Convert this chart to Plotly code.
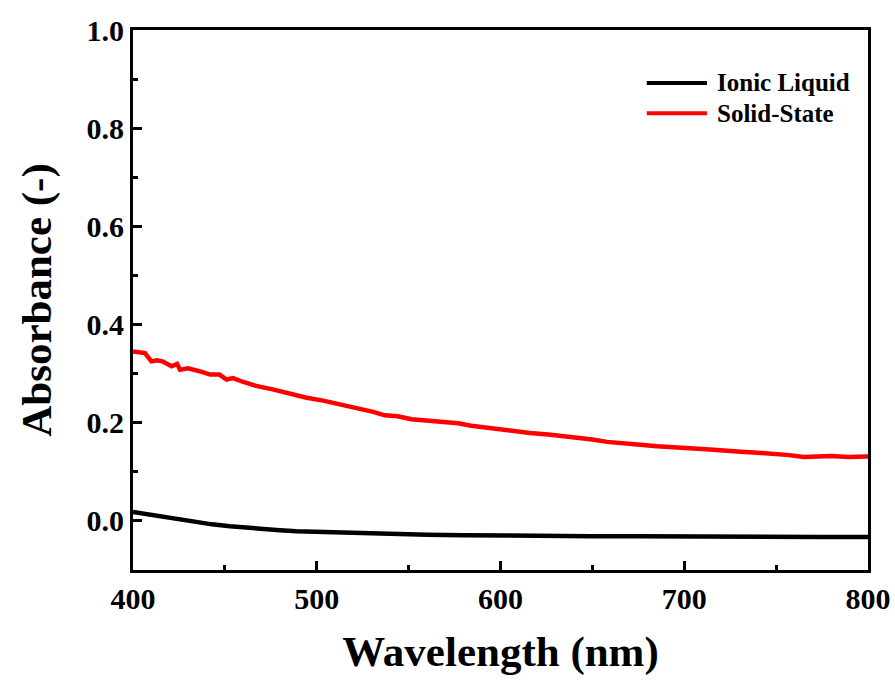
import plotly.graph_objects as go

# Absorbance spectra (wavelength in nm, absorbance dimensionless)
series_names = ["Ionic Liquid", "Solid-State"]
series_colors = ["#000000", "#ff0000"]

wl_ionic = [400, 408, 416.5, 425, 434.6, 443, 452.7, 461, 470.8, 480, 489, 498,
            507, 520, 533.5, 547, 560, 580, 600, 625, 650, 675, 700, 725, 750,
            775, 800]
abs_ionic = [0.018, 0.013, 0.0075, 0.002, -0.003, -0.007, -0.011, -0.014, -0.016,
             -0.019, -0.021, -0.022, -0.023, -0.025, -0.026, -0.027, -0.028,
             -0.029, -0.030, -0.030, -0.031, -0.031, -0.032, -0.032, -0.033,
             -0.033, -0.033]

wl_solid = [400, 403, 406.5, 410, 413, 416, 419, 421, 424, 425.6, 430, 434.6, 438,
            442, 447, 451, 454.5, 460, 467, 476, 485.5, 494.5, 503.5, 512.6,
            521.7, 530.7, 537, 544, 551.6, 558, 566, 577, 584, 591.5, 599, 606,
            616, 626, 634, 642, 650, 658, 667, 676, 685, 694, 703, 712, 721,
            730.6, 740, 748.7, 757, 765, 772, 780, 789, 798, 800]
abs_solid = [0.345, 0.343, 0.342, 0.325, 0.327, 0.325, 0.318, 0.315, 0.320, 0.308,
             0.311, 0.307, 0.303, 0.298, 0.298, 0.288, 0.291, 0.283, 0.275, 0.268,
             0.259, 0.251, 0.245, 0.237, 0.231, 0.222, 0.215, 0.213, 0.207, 0.205,
             0.203, 0.199, 0.194, 0.190, 0.187, 0.183, 0.179, 0.176, 0.173, 0.170,
             0.166, 0.161, 0.159, 0.155, 0.152, 0.149, 0.148, 0.146, 0.143, 0.141,
             0.139, 0.137, 0.134, 0.130, 0.131, 0.132, 0.130, 0.130, 0.131]

x_ticks = [400, 500, 600, 700, 800]
y_ticks = [0.0, 0.2, 0.4, 0.6, 0.8, 1.0]

FONT = "Liberation Serif"

fig = go.Figure()
for name, color, xs, ys in [
    (series_names[0], series_colors[0], wl_ionic, abs_ionic),
    (series_names[1], series_colors[1], wl_solid, abs_solid),
]:
    fig.add_trace(go.Scatter(x=xs, y=ys, mode="lines", name=name,
                             line=dict(color=color, width=4.5),
                             showlegend=False))

axis_common = dict(
    showgrid=False, zeroline=False, showline=True, linecolor="black",
    linewidth=3, mirror=True, ticks="inside", ticklen=9, tickwidth=3,
    tickcolor="black", automargin=False,
    tickfont=dict(family=FONT, size=30, color="black", weight="bold"),
)

fig.update_xaxes(
    range=[400, 800], tickvals=x_ticks,
    minor=dict(dtick=50, ticks="inside", ticklen=5, tickwidth=3, tickcolor="black"),
    title=dict(text="Wavelength (nm)", standoff=22,
               font=dict(family=FONT, size=43, color="black", weight="bold")),
    **axis_common,
)
fig.update_yaxes(
    range=[-0.1, 1.0], tickvals=y_ticks, tickformat=".1f",
    minor=dict(dtick=0.1, tick0=0, ticks="inside", ticklen=5, tickwidth=3,
               tickcolor="black"),
    title=dict(text="Absorbance (-)", standoff=22,
               font=dict(family=FONT, size=43, color="black", weight="bold")),
    **axis_common,
)

# Legend drawn as line samples with bold labels
legend_y = [0.902, 0.846]
for name, color, ly in zip(series_names, series_colors, legend_y):
    fig.add_shape(type="line", xref="paper", yref="paper",
                  x0=0.699, x1=0.781, y0=ly, y1=ly,
                  line=dict(color=color, width=4))
    fig.add_annotation(xref="paper", yref="paper", x=0.792, y=ly,
                       text=name, showarrow=False, xanchor="left",
                       yanchor="middle",
                       font=dict(family=FONT, size=25, color="black",
                                 weight="bold"))

fig.update_layout(
    width=895, height=680,
    margin=dict(l=133, r=27, t=30, b=110),
    paper_bgcolor="white", plot_bgcolor="white",
)

fig.write_html("out.html")
